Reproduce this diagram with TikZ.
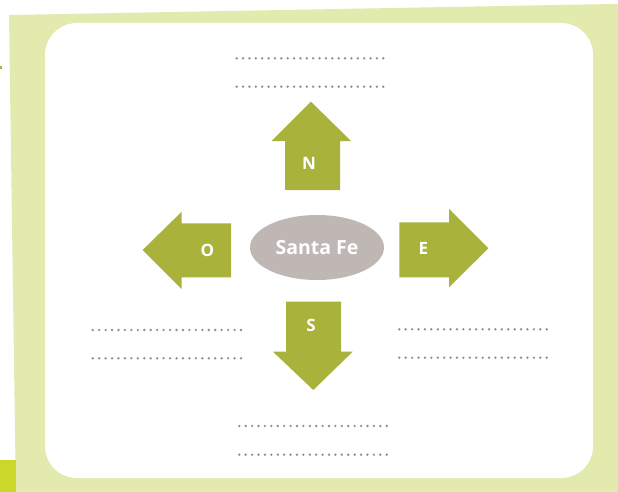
\documentclass[tikz,border=0pt]{standalone}
\usepackage{fontspec}
\newfontfamily\labelfont{Open Sans}
\definecolor{bggreen}{HTML}{E2EAAE}
\definecolor{arrowgreen}{HTML}{A9B23A}
\definecolor{limegreen}{HTML}{C9D82B}
\definecolor{ovalgray}{HTML}{BFB7B4}
\definecolor{dotgray}{HTML}{8E8E8E}
\tikzset{
  arrowfill/.style={fill=arrowgreen},
  dirlabel/.style={text=white, font=\labelfont\bfseries\fontsize{17}{17}\selectfont, inner sep=0pt},
  cityoval/.style={ellipse, fill=ovalgray, minimum width=134pt, minimum height=65pt, inner sep=0pt,
    text=white, font=\labelfont\bfseries\fontsize{19.5}{20}\selectfont},
  dotline/.style={fill=dotgray}
}
\usetikzlibrary{shapes.geometric}
\newcommand{\dotrow}[3]{% x0, x1, y
  \foreach \k in {0,...,23}{
    \fill[dotline] ({#1+(#2-#1)*\k/23},#3) circle (1.3pt);
  }
}
\begin{document}
\begin{tikzpicture}[x=1pt,y=-1pt]
\useasboundingbox (0,0) rectangle (618,492);
% background
\fill[white] (0,0) rectangle (618,492);
\fill[bggreen] (9,15) -- (640,3.5) -- (640,500) -- (16,500) -- cycle;
\fill[limegreen] (0,460) rectangle (16,492);
\fill[arrowgreen] (0,66.5) rectangle (1.6,69);
% white card
\fill[white, rounded corners=32pt] (45,23) rectangle (593,478);
% arrows
\fill[arrowfill] (285,190) -- (285,141) -- (271.7,141) -- (311,101.7) -- (351,141) -- (340,141) -- (340,190) -- cycle;
\fill[arrowfill] (286,301.7) -- (341,301.7) -- (341,351.7) -- (352.7,351.7) -- (313.3,390) -- (273,351.7) -- (286,351.7) -- cycle;
\fill[arrowfill] (231,223.3) -- (181.7,223.3) -- (181.7,211.7) -- (142.7,250) -- (181.7,289) -- (181.7,277.3) -- (231,277.3) -- cycle;
\fill[arrowfill] (399.3,222.3) -- (449,222.3) -- (449,209) -- (488.3,248.3) -- (449,287.3) -- (449,277.3) -- (399.3,277.3) -- cycle;
% labels
\node[dirlabel] (n) at (309,163) {N};
\node[dirlabel] (s) at (311,325) {S};
\node[dirlabel] (o) at (207.5,250) {O};
\node[dirlabel] (e) at (423.5,248.5) {E};
\node[cityoval] (city) at (317,247.5) {Santa Fe};
% dotted lines
\dotrow{236.7}{383.3}{58.3}
\dotrow{236.7}{383.3}{86.7}
\dotrow{92.7}{241}{330}
\dotrow{92.7}{241}{358.3}
\dotrow{399.3}{546.7}{329.3}
\dotrow{399.3}{546.7}{357.7}
\dotrow{239.3}{386.7}{426}
\dotrow{239.3}{386.7}{454.7}
\end{tikzpicture}
\end{document}
